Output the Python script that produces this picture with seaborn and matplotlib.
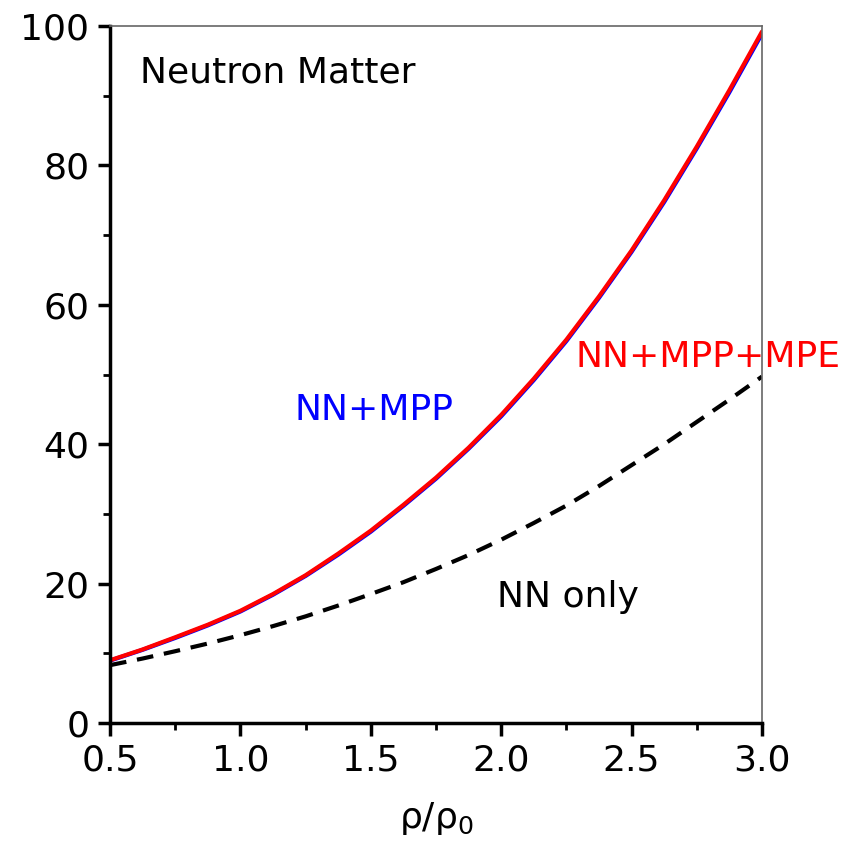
import numpy as np
import pandas as pd
import matplotlib
matplotlib.use("Agg")
import matplotlib.pyplot as plt
from matplotlib.ticker import MultipleLocator
import seaborn as sns

# density in units of saturation density
density = [0.5, 0.625, 0.75, 0.875, 1.0, 1.125, 1.25, 1.375, 1.5, 1.625,
           1.75, 1.875, 2.0, 2.125, 2.25, 2.375, 2.5, 2.625, 2.75, 2.875, 3.0]
# energy per neutron (MeV) for the three interaction sets
nn_only = [8.3, 9.25, 10.3, 11.4, 12.6, 13.9, 15.3, 16.85, 18.5, 20.2,
           22.1, 24.1, 26.3, 28.7, 31.2, 34.0, 37.0, 40.0, 43.2, 46.4, 49.7]
nn_mpp = [8.95, 10.5, 12.2, 14.0, 16.0, 18.4, 21.1, 24.15, 27.45, 31.15,
          35.05, 39.35, 44.0, 49.2, 54.8, 61.0, 67.6, 74.75, 82.45, 90.5, 98.9]
nn_mpp_mpe = [9.0, 10.55, 12.3, 14.1, 16.1, 18.5, 21.2, 24.3, 27.6, 31.3,
              35.2, 39.5, 44.2, 49.4, 55.0, 61.2, 67.8, 75.0, 82.7, 90.8, 99.2]

sns.set_theme(style="ticks")
plt.rcParams["font.family"] = ["DejaVu Sans"]

df = pd.DataFrame({"rho": density, "NN only": nn_only,
                   "NN+MPP": nn_mpp, "NN+MPP+MPE": nn_mpp_mpe})

fig = plt.figure(figsize=(8.56, 8.5), dpi=100)
ax = fig.add_axes([0.1285, 0.1494, 0.7617, 0.82])

sns.lineplot(data=df, x="rho", y="NN only", ax=ax, color="black",
             lw=3, linestyle=(0, (4, 2.6)))
sns.lineplot(data=df, x="rho", y="NN+MPP", ax=ax, color="blue", lw=3)
sns.lineplot(data=df, x="rho", y="NN+MPP+MPE", ax=ax, color="red", lw=3)

ax.set_xlim(0.5, 3.0)
ax.set_ylim(0, 100)
ax.xaxis.set_major_locator(MultipleLocator(0.5))
ax.xaxis.set_minor_locator(MultipleLocator(0.25))
ax.yaxis.set_major_locator(MultipleLocator(20))
ax.yaxis.set_minor_locator(MultipleLocator(10))
ax.set_xticks(ax.get_xticks())
ax.set_xticklabels([f"{v:.1f}" for v in ax.get_xticks()])
ax.set_xlim(0.5, 3.0)

for side in ("left", "bottom"):
    ax.spines[side].set_linewidth(2.5)
    ax.spines[side].set_color("black")
for side in ("top", "right"):
    ax.spines[side].set_visible(True)
    ax.spines[side].set_linewidth(1.2)
    ax.spines[side].set_color("#666666")

ax.tick_params(which="major", direction="out", length=9, width=2.5,
               labelsize=26, pad=6, color="black", labelcolor="black")
ax.tick_params(which="minor", direction="out", length=5, width=2,
               color="black")
ax.tick_params(top=False, right=False, which="both")

ax.set_xlabel("ρ/ρ$_0$", fontsize=26, labelpad=16, color="black")
ax.set_ylabel("")

ax.text(0.615, 93.3, "Neutron Matter", fontsize=26, color="black",
        va="center")
ax.text(1.209, 44.9, "NN+MPP", fontsize=26, color="blue", va="center")
ax.text(2.283, 52.5, "NN+MPP+MPE", fontsize=26, color="red", va="center",
        clip_on=False)
ax.text(1.984, 18.1, "NN only", fontsize=26, color="black", va="center")

fig.savefig("out.png", dpi=100)
